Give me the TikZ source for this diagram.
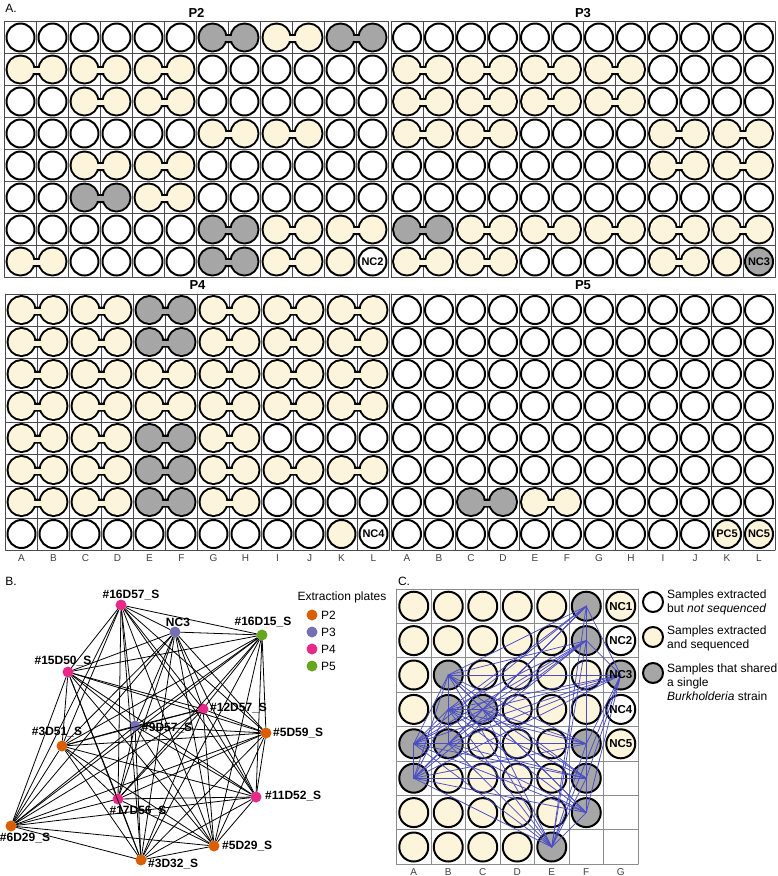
\documentclass[tikz,border=0pt]{standalone}
\usepackage{fontspec}
\setmainfont{Liberation Sans}

\definecolor{cream}{HTML}{FDF4DC}
\definecolor{wellgray}{HTML}{A6A6A6}
\definecolor{strainblue}{HTML}{4A4DC4}
\definecolor{ptwo}{HTML}{D95F02}
\definecolor{pthree}{HTML}{7570B3}
\definecolor{pfour}{HTML}{E7298A}
\definecolor{pfive}{HTML}{66A61E}

\tikzset{
  gridline/.style={draw=black!70, line width=0.8},
  cgridline/.style={draw=black!45, line width=0.8},
  well/.style={line width=2},
  cwell/.style={circle, draw, line width=2, minimum size=29, inner sep=0},
  cy/.style={fill=cream}, cg/.style={fill=wellgray}, cw/.style={fill=white},
  cn/.style={draw=none},
  dot/.style={circle, minimum size=11, inner sep=0},
  netedge/.style={line width=0.8},
  strain/.style={draw=strainblue, line width=0.75},
  platetitle/.style={font=\fontsize{13}{15}\selectfont\bfseries},
  collab/.style={font=\fontsize{10}{12}\selectfont, text=black!75},
  ncl/.style={font=\fontsize{11}{12}\selectfont\bfseries, inner sep=0},
  ncC/.style={font=\fontsize{11.5}{13}\selectfont\bfseries, inner sep=0},
  netlab/.style={font=\fontsize{12}{14}\selectfont\bfseries, inner sep=0},
  legtext/.style={font=\fontsize{12}{14}\selectfont, align=left, anchor=west, inner sep=0},
  panel/.style={font=\fontsize{12}{14}\selectfont, inner sep=0}
}

% one well, and two wells joined by a neck (centre of the left one)
\newcommand\onewell[3]{\draw[well, fill=#3] (#1,#2) circle (14);}
\newcommand\twowell[3]{%
  \draw[line width=4] (#1,#2) circle (13) (#1+32,#2) circle (13)
    (#1,#2-1.5) rectangle (#1+32,#2+3.5);
  \fill[#3] (#1,#2) circle (13) (#1+32,#2) circle (13);
  \fill[#3] (#1,#2-1.5) rectangle (#1+32,#2+3.5);}
\newcommand\pairw[2]{\onewell{#1}{#2}{white}\onewell{#1+32}{#2}{white}}
\newcommand\pairY[2]{\twowell{#1}{#2}{cream}}
\newcommand\pairG[2]{\twowell{#1}{#2}{wellgray}}
\newcommand\pairyw[2]{\onewell{#1}{#2}{cream}\onewell{#1+32}{#2}{white}}
\newcommand\pairyg[2]{\onewell{#1}{#2}{cream}\onewell{#1+32}{#2}{wellgray}}
\newcommand\pairyy[2]{\onewell{#1}{#2}{cream}\onewell{#1+32}{#2}{cream}}

% 96-well plate: x0, y0, title, rows of pair codes
\newcommand\plate[4]{%
  \foreach \i in {0,...,12} \draw[gridline] (#1+32*\i,#2) -- (#1+32*\i,#2+256);
  \foreach \j in {0,...,8} \draw[gridline] (#1,#2+32*\j) -- (#1+384,#2+32*\j);
  \node[platetitle] (#3) at (#1+192,#2-8.5) {#3};
  \foreach \row [count=\rowi from 0] in {#4} {
    \foreach \code [count=\pairi from 0] in \row {
      \pgfmathsetmacro\wx{#1+16+64*\pairi}
      \pgfmathsetmacro\wy{#2+16+32*\rowi}
      \csname pair\code\endcsname{\wx}{\wy}
    }
  }}

\begin{document}
\begin{tikzpicture}[x=1pt, y=-1pt, line cap=round, line join=round]
  \useasboundingbox[fill=white] (0,0) rectangle (778,876);

  % A. Extraction plates.
  \node[panel] (A) at (11,8.5) {A.};
  \plate{4.5}{21.5}{P2}{{w,w,w,G,Y,G},{Y,Y,Y,w,w,w},{w,Y,Y,w,w,w},{w,w,w,Y,Y,w},
    {w,Y,Y,w,w,w},{w,G,Y,w,w,w},{w,w,w,G,Y,Y},{Y,w,w,G,Y,yw}}
  \plate{391}{21.5}{P3}{{w,w,w,w,w,w},{Y,Y,Y,Y,w,w},{Y,Y,Y,Y,w,w},{Y,Y,w,w,Y,Y},
    {w,w,w,w,Y,Y},{w,w,w,w,w,w},{G,Y,Y,Y,Y,Y},{Y,Y,w,w,Y,yg}}
  \plate{5.5}{294}{P4}{{Y,Y,G,Y,Y,Y},{Y,Y,G,Y,Y,Y},{Y,Y,Y,Y,Y,Y},{Y,Y,Y,Y,Y,Y},
    {Y,Y,G,Y,w,w},{Y,Y,G,Y,Y,Y},{Y,Y,G,Y,w,w},{w,w,w,w,w,yw}}
  \plate{391}{294}{P5}{{w,w,w,w,w,w},{w,w,w,w,w,w},{w,w,w,w,w,w},{w,w,w,w,w,w},
    {w,w,w,w,w,w},{w,w,w,w,w,w},{w,G,Y,w,w,w},{w,w,w,w,w,yy}}
  \node[ncl] (nc2) at (372.5,261.5) {NC2};
  \node[ncl] (nc3) at (759,261.5) {NC3};
  \node[ncl] (nc4) at (373.5,534) {NC4};
  \node[ncl] (pc5) at (727,534) {PC5};
  \node[ncl] (nc5) at (759,534) {NC5};
  \foreach \c [count=\k from 0] in {A,...,L} {
    \node[collab] (fourcol\c) at (5.5+16+32*\k,558) {\c};
    \node[collab] (fivecol\c) at (391+16+32*\k,558) {\c};
  }

  % B. Strain sharing network.
  \node[panel] (B) at (11,581) {B.};
  \node[dot, fill=pfour] (n16D57) at (121,605) {};
  \node[dot, fill=pthree] (nNC3) at (175,632) {};
  \node[dot, fill=pfive] (n16D15) at (262,635) {};
  \node[dot, fill=pfour] (n15D50) at (68,672) {};
  \node[dot, fill=pfour] (n12D57) at (203,709) {};
  \node[dot, fill=pthree] (n9D57) at (135,726) {};
  \node[dot, fill=ptwo] (n3D51) at (62,746) {};
  \node[dot, fill=ptwo] (n5D59) at (266,733) {};
  \node[dot, fill=pfour] (n11D52) at (256,797) {};
  \node[dot, fill=pfour] (n17D56) at (118,799) {};
  \node[dot, fill=ptwo] (n6D29) at (11,826) {};
  \node[dot, fill=ptwo] (n5D29) at (214,846) {};
  \node[dot, fill=ptwo] (n3D32) at (141,860) {};
  \foreach \a [count=\i] in {16D57,NC3,16D15,15D50,12D57,9D57,3D51,5D59,11D52,17D56,6D29,5D29,3D32}
    \foreach \b [count=\j] in {16D57,NC3,16D15,15D50,12D57,9D57,3D51,5D59,11D52,17D56,6D29,5D29,3D32}
      {\ifnum\j>\i \draw[netedge] (n\a) -- (n\b); \fi}
  \node[netlab] (t16D57) at (131,595) {\#16D57\_S};
  \node[netlab] (tNC3) at (178,622) {NC3};
  \node[netlab] (t16D15) at (263,622) {\#16D15\_S};
  \node[netlab] (t15D50) at (63,661) {\#15D50\_S};
  \node[netlab, anchor=west] (t12D57) at (210,708) {\#12D57\_S};
  \node[netlab, anchor=west] (t9D57) at (142,728) {\#9D57\_S};
  \node[netlab] (t3D51) at (57,732) {\#3D51\_S};
  \node[netlab, anchor=west] (t5D59) at (273,733) {\#5D59\_S};
  \node[netlab, anchor=west] (t11D52) at (265,796) {\#11D52\_S};
  \node[netlab] (t17D56) at (138,811) {\#17D56\_S};
  \node[netlab] (t6D29) at (25,838) {\#6D29\_S};
  \node[netlab, anchor=west] (t5D29) at (222,846) {\#5D29\_S};
  \node[netlab, anchor=west] (t3D32) at (148,864) {\#3D32\_S};
  % legend
  \node[legtext, anchor=center] (plates) at (342,597) {Extraction plates};
  \foreach \p/\col [count=\k from 0] in {P2/ptwo,P3/pthree,P4/pfour,P5/pfive} {
    \node[dot, fill=\col] (key\p) at (312,615+17*\k) {};
    \node[legtext] (lab\p) at (321,615+17*\k) {\p};
  }

  % C. Wells of the shared strain.
  \node[panel] (C) at (404,581) {C.};
  \foreach \i in {0,...,7} \draw[cgridline] (396.5+34.5*\i,589) -- (396.5+34.5*\i,864.2);
  \foreach \j in {0,...,8} \draw[cgridline] (396.5,589+34.4*\j) -- (638,589+34.4*\j);
  \foreach \row [count=\rowi] in {{y,y,y,y,y,g,y},{y,y,y,y,y,g,w},{y,g,y,y,y,y,g},
      {y,g,g,y,y,y,w},{g,g,y,y,y,g,y},{g,y,y,y,y,g,n},{y,y,y,y,y,g,n},{y,y,y,y,g,n,n}}
    \foreach \code [count=\coli] in \row
      \node[cwell, c\code] (c\coli-\rowi) at (379.25+34.5*\coli, 571.8+34.4*\rowi) {};
  \foreach \a [count=\i] in {6-1,6-2,2-3,7-3,2-4,3-4,1-5,2-5,6-5,1-6,6-6,6-7,5-8}
    \foreach \b [count=\j] in {6-1,6-2,2-3,7-3,2-4,3-4,1-5,2-5,6-5,1-6,6-6,6-7,5-8}
      {\ifnum\j>\i \draw[strain] (c\a.center) -- (c\b.center); \fi}
  \foreach \n in {1,...,5} \node[ncC] (gnc\n) at (c7-\n) {NC\n};
  \foreach \c [count=\k from 0] in {A,...,G}
    \node[collab] (ccol\c) at (413.75+34.5*\k,872) {\c};
  % legend
  \node[cwell, minimum size=20, fill=white] (keyw) at (653,602) {};
  \node[cwell, minimum size=20, fill=cream] (keyy) at (653,637) {};
  \node[cwell, minimum size=20, fill=wellgray] (keyg) at (653,673) {};
  \node[legtext] (texw) at (667,602) {Samples extracted\\but \textit{not sequenced}};
  \node[legtext] (texy) at (667,638) {Samples extracted\\and sequenced};
  \node[legtext] (texg) at (667,682) {Samples that shared\\a single\\\textit{Burkholderia} strain};
\end{tikzpicture}
\end{document}
